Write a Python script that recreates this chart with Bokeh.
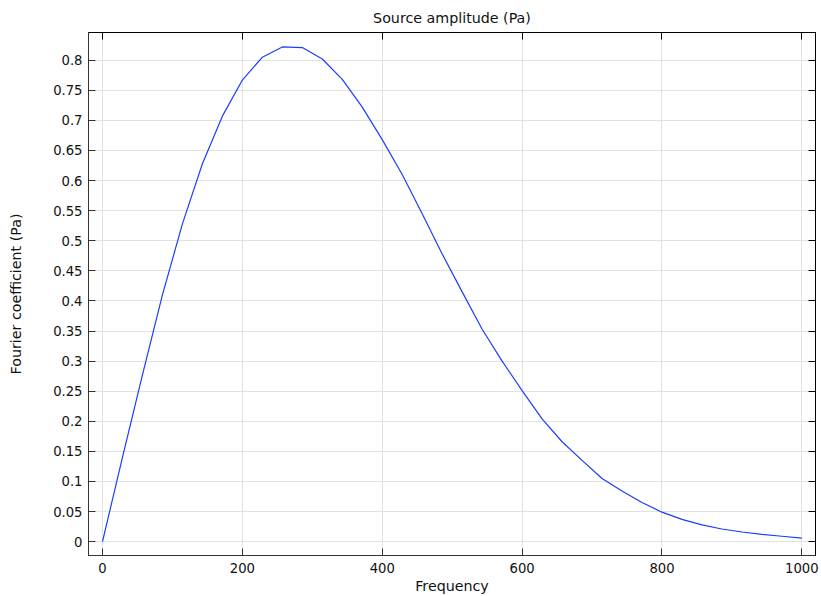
from bokeh.plotting import figure
from bokeh.models import LinearAxis, FixedTicker, NumeralTickFormatter, Range1d
from bokeh.embed import file_html
from bokeh.resources import INLINE

# Data
frequency = [0.0, 28.57, 57.14, 85.71, 114.29, 142.86, 171.43, 200.0, 228.57, 257.14,
             285.71, 314.29, 342.86, 371.43, 400.0, 428.57, 457.14, 485.71, 514.29, 542.86,
             571.43, 600.0, 628.57, 657.14, 685.71, 714.29, 742.86, 771.43, 800.0, 828.57,
             857.14, 885.71, 914.29, 942.86, 971.43, 1000.0]
amplitude = [0.0, 0.140, 0.277, 0.410, 0.528, 0.628, 0.707, 0.767, 0.805, 0.822,
             0.821, 0.802, 0.768, 0.722, 0.668, 0.610, 0.545, 0.478, 0.415, 0.353,
             0.300, 0.251, 0.204, 0.166, 0.135, 0.105, 0.084, 0.065, 0.049, 0.037,
             0.028, 0.021, 0.016, 0.012, 0.009, 0.006]

x_ticks = [0, 200, 400, 600, 800, 1000]
y_ticks = [0, 0.05, 0.1, 0.15, 0.2, 0.25, 0.3, 0.35, 0.4, 0.45, 0.5, 0.55, 0.6,
           0.65, 0.7, 0.75, 0.8]

title_text = "Source amplitude (Pa)"
x_label = "Frequency"
y_label = "Fourier coefficient (Pa)"

FONT = "DejaVu Sans"
FS_TICK = "13.2px"
FS_LABEL = "14.25px"

p = figure(width=821, height=596,
           x_range=Range1d(-20, 1019.5), y_range=Range1d(-0.023, 0.846),
           output_backend="svg", toolbar_location=None,
           min_border_left=88, min_border_right=6, min_border_top=30, min_border_bottom=40,
           background_fill_color="white", border_fill_color="white")

p.title.text = title_text
p.title.align = "center"
p.title.text_font = FONT
p.title.text_font_size = FS_LABEL
p.title.text_font_style = "normal"
p.title.text_color = "#111111"
p.title.standoff = 14

p.outline_line_color = "black"
p.outline_line_width = 1
p.outline_line_alpha = 1.0

p.line(frequency, amplitude, line_color="#1a3dff", line_width=1.2)

# main axes
xa = p.xaxis[0]
ya = p.yaxis[0]
xa.ticker = FixedTicker(ticks=x_ticks)
ya.ticker = FixedTicker(ticks=y_ticks)
ya.formatter = NumeralTickFormatter(format="0.[00]")
xa.axis_label = x_label
ya.axis_label = y_label
for ax in (xa, ya):
    ax.major_tick_in = 7
    ax.major_tick_out = 0
    ax.minor_tick_line_color = None
    ax.major_label_text_font = FONT
    ax.major_label_text_font_size = FS_TICK
    ax.major_label_text_color = "#111111"
    ax.axis_label_text_font = FONT
    ax.axis_label_text_font_size = FS_LABEL
    ax.axis_label_text_font_style = "normal"
    ax.axis_label_text_color = "#111111"
    ax.axis_line_color = "#333333"
    ax.major_tick_line_color = "#333333"
xa.major_label_standoff = 7
xa.axis_label_standoff = 2
ya.major_label_standoff = 6
ya.axis_label_standoff = 26

# tick-only axes on top and right
top = LinearAxis(ticker=FixedTicker(ticks=x_ticks))
right = LinearAxis(ticker=FixedTicker(ticks=y_ticks))
for ax in (top, right):
    ax.major_tick_in = 7
    ax.major_tick_out = 0
    ax.minor_tick_line_color = None
    ax.major_label_text_font_size = "0px"
    ax.major_label_text_alpha = 0
    ax.major_label_standoff = 0
    ax.axis_line_color = "black"
    ax.major_tick_line_color = "black"
p.add_layout(top, "above")
p.add_layout(right, "right")

p.xgrid.ticker = FixedTicker(ticks=x_ticks)
p.ygrid.ticker = FixedTicker(ticks=y_ticks)
p.xgrid.grid_line_color = "#e2e2e2"
p.ygrid.grid_line_color = "#e2e2e2"
p.xgrid.grid_line_width = 1
p.ygrid.grid_line_width = 1

open("out.html", "w").write(file_html(p, INLINE))
